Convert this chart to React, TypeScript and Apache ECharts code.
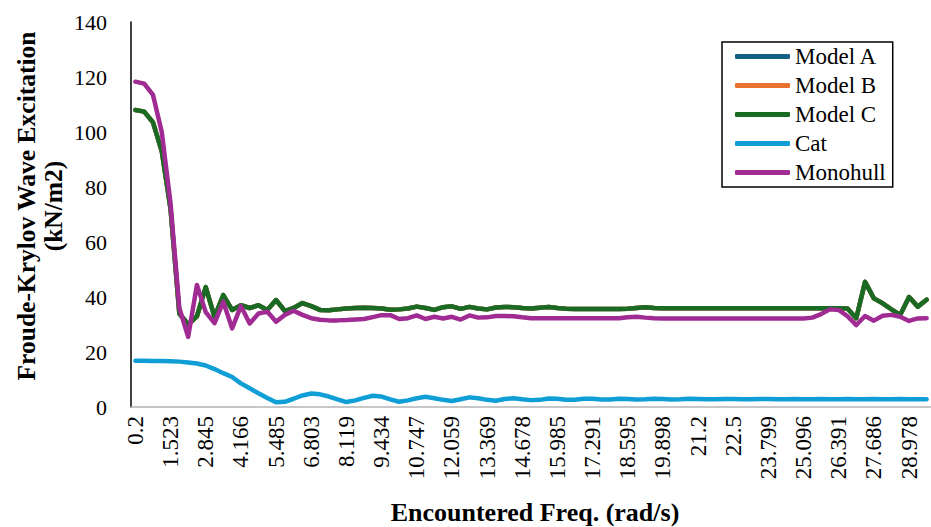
import React, { useEffect, useRef } from "react";
import * as echarts from "echarts";

// Tick labels shown on the category axis (every 4th category)
const tickLabels = [
  "0.2", "1.523", "2.845", "4.166", "5.485", "6.803", "8.119", "9.434", "10.747",
  "12.059", "13.369", "14.678", "15.985", "17.291", "18.595", "19.898", "21.2",
  "22.5", "23.799", "25.096", "26.391", "27.686", "28.978",
];
const categoryCount = 91;
const labelStep = 4;

const modelC = [
  108, 107.4, 103.5, 93, 72, 34, 30, 33, 43.6, 32.8,
  40.7, 35.3, 37, 36, 37, 35.3, 38.9, 34.9, 36, 37.8,
  36.7, 35.3, 35.2, 35.5, 35.8, 36, 36.1, 36, 35.8, 35.4,
  35.5, 35.8, 36.5, 36, 35.3, 36.3, 36.6, 35.7, 36.4, 35.8,
  35.5, 36.2, 36.4, 36.3, 36, 35.8, 36.1, 36.4, 36, 35.7,
  35.6, 35.6, 35.6, 35.6, 35.6, 35.6, 35.7, 36, 36.3, 36,
  35.9, 35.9, 35.9, 35.9, 35.9, 35.9, 35.9, 35.9, 35.9, 35.9,
  35.9, 35.9, 35.9, 35.9, 35.9, 35.9, 35.9, 35.9, 35.9, 35.9,
  35.9, 35.8, 32.3, 45.5, 39.5, 37.7, 35.5, 33.5, 40, 36.5,
  39,
];
// Model A and Model B lie underneath Model C in the picture
const modelA = [...modelC];
const modelB = [...modelC];

const cat = [
  16.8, 16.8, 16.7, 16.7, 16.6, 16.5, 16.2, 15.8, 15.1, 13.8,
  12.3, 10.9, 8.6, 6.8, 5, 3.3, 1.7, 1.9, 3.0, 4.2,
  4.9, 4.6, 3.8, 2.8, 1.8, 2.4, 3.3, 4.1, 3.8, 2.8,
  1.9, 2.4, 3.2, 3.7, 3.2, 2.6, 2.2, 2.8, 3.5, 3.2,
  2.6, 2.3, 2.9, 3.2, 2.8, 2.5, 2.6, 3.1, 3.0, 2.6,
  2.6, 3.0, 3.0, 2.7, 2.7, 3.0, 2.9, 2.7, 2.8, 3.0,
  2.9, 2.7, 2.8, 3.0, 2.9, 2.8, 2.8, 2.9, 2.9, 2.8,
  2.8, 2.9, 2.9, 2.8, 2.8, 2.9, 2.8, 2.8, 2.9, 2.8,
  2.8, 2.9, 2.8, 2.8, 2.9, 2.8, 2.8, 2.9, 2.8, 2.8,
  2.8,
];

const monohull = [
  118.3, 117.6, 113.5, 100, 74, 36, 25.5, 44.4, 34.5, 30.5,
  38.3, 28.6, 36.7, 30.4, 34, 34.7, 31, 33.5, 35, 33.5,
  32.3, 31.7, 31.5, 31.5, 31.6, 31.8, 32, 32.7, 33.4, 33.4,
  32, 32.3, 33.3, 32, 32.8, 32.2, 32.8, 31.8, 33.3, 32.5,
  32.6, 33.1, 33.1, 33, 32.6, 32.3, 32.3, 32.3, 32.3, 32.3,
  32.3, 32.3, 32.3, 32.3, 32.3, 32.3, 32.6, 32.8, 32.5, 32.3,
  32.2, 32.2, 32.2, 32.2, 32.2, 32.2, 32.2, 32.2, 32.2, 32.2,
  32.2, 32.2, 32.2, 32.2, 32.2, 32.2, 32.2, 32.5, 33.8, 35.5,
  35.3, 33, 29.8, 33.1, 31.4, 33.2, 33.5, 32.8, 31.3, 32.2,
  32.3,
];

const seriesNames = ["Model A", "Model B", "Model C", "Cat", "Monohull"];
const seriesColors = ["#156082", "#E97132", "#196B24", "#0F9ED5", "#A02B93"];
const seriesValues = [modelA, modelB, modelC, cat, monohull];

const FONT = "Liberation Serif";

export default function App() {
  const ref = useRef<HTMLDivElement>(null);

  useEffect(() => {
    if (!ref.current) return;
    const chart = echarts.init(ref.current, undefined, { renderer: "svg" });
    const categories = Array.from({ length: categoryCount }, (_, i) =>
      i % labelStep === 0 && tickLabels[i / labelStep] !== undefined ? tickLabels[i / labelStep] : ""
    );

    chart.setOption({
      animation: false,
      backgroundColor: "#ffffff",
      textStyle: { fontFamily: FONT },
      grid: { left: 131, right: 0, top: 22, bottom: 120, containLabel: false },
      legend: {
        data: seriesNames,
        orient: "vertical",
        left: 722,
        top: 42,
        padding: [3, 7, 3, 13],
        itemGap: 6,
        itemWidth: 55,
        itemHeight: 5,
        icon: "roundRect",
        borderColor: "#000",
        borderWidth: 1.5,
        textStyle: { fontFamily: FONT, fontSize: 23, lineHeight: 23, color: "#000" },
      },
      xAxis: {
        type: "category",
        data: categories,
        boundaryGap: true,
        axisLine: { show: true, lineStyle: { color: "#b4b4b4", width: 1.5 } },
        axisTick: { show: false },
        splitLine: { show: false },
        axisLabel: {
          interval: labelStep - 1,
          rotate: 90,
          margin: 9,
          color: "#000",
          fontFamily: FONT,
          fontSize: 23,
        },
      },
      yAxis: {
        type: "value",
        min: 0,
        max: 140,
        interval: 20,
        axisLine: { show: true, lineStyle: { color: "#000", width: 1.5 } },
        axisTick: { show: false },
        splitLine: { show: false },
        axisLabel: { color: "#000", fontFamily: FONT, fontSize: 22, margin: 24 },
      },
      graphic: [
        {
          type: "text",
          x: 40,
          y: 206,
          rotation: Math.PI / 2,
          style: {
            text: "Froude-Krylov Wave Excitation\n(kN/m2)",
            fontFamily: FONT,
            fontSize: 25.5,
            fontWeight: "bold",
            textAlign: "center",
            textVerticalAlign: "middle",
            align: "center",
            verticalAlign: "middle",
            lineHeight: 27,
            fill: "#000",
          },
        },
        {
          type: "text",
          x: 535,
          y: 512,
          style: {
            text: "Encountered Freq. (rad/s)",
            fontFamily: FONT,
            fontSize: 26,
            fontWeight: "bold",
            textAlign: "center",
            textVerticalAlign: "middle",
            align: "center",
            verticalAlign: "middle",
            fill: "#000",
          },
        },
      ],
      series: seriesNames.map((name, k) => ({
        name,
        type: "line",
        data: seriesValues[k],
        symbol: "none",
        showSymbol: false,
        color: seriesColors[k],
        lineStyle: { width: 4.5, color: seriesColors[k], cap: "round", join: "round" },
        emphasis: { disabled: true },
      })),
    });

    return () => chart.dispose();
  }, []);

  return (
    <div
      ref={ref}
      style={{ position: "absolute", left: 0, top: 0, width: 931, height: 527 }}
    />
  );
}
